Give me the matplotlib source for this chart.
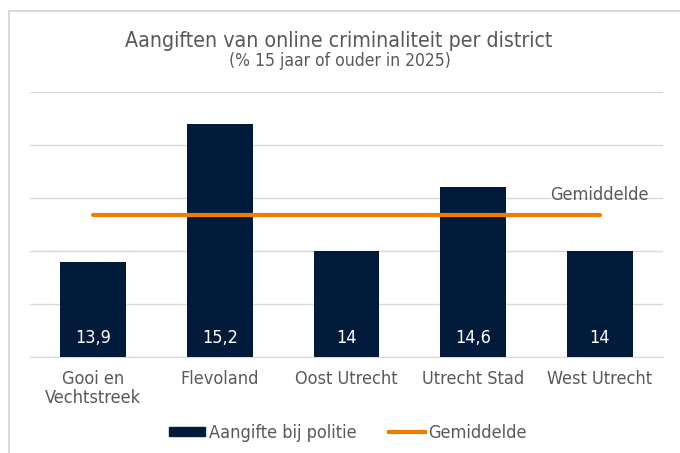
import matplotlib.pyplot as plt
import matplotlib.transforms as mtransforms
from matplotlib.lines import Line2D
from matplotlib.patches import Patch

districts = ['Gooi en\nVechtstreek', 'Flevoland', 'Oost Utrecht', 'Utrecht Stad', 'West Utrecht']
aangifte = [13.9, 15.2, 14.0, 14.6, 14.0]
value_labels = ['13,9', '15,2', '14', '14,6', '14']
gemiddelde = sum(aangifte) / len(aangifte)

navy = '#021B3A'
orange = '#F07D00'
grey_text = '#595959'
grid_col = '#D9D9D9'

plt.rcParams['font.family'] = ['DejaVu Sans']
plt.rcParams['font.stretch'] = 'condensed'

fig = plt.figure(figsize=(6.8, 4.53), dpi=100)
ax = fig.add_axes([30/680, 1-357/453, 633/680, 265/453])

x = list(range(len(districts)))
ax.bar(x, aangifte, width=0.52, color=navy, zorder=3)
ax.plot([x[0], x[-1]], [gemiddelde, gemiddelde], color=orange, lw=3,
        solid_capstyle='round', zorder=4)

trans = mtransforms.blended_transform_factory(ax.transData, ax.transAxes)
for i, lab in zip(x, value_labels):
    ax.text(i, 0.072, lab, transform=trans, ha='center', va='center',
            color='white', fontsize=13, zorder=5)

ax.text(x[-1], gemiddelde + 0.19, 'Gemiddelde', ha='center', va='center',
        color=grey_text, fontsize=13, zorder=5)

ax.set_xlim(-0.5, 4.5)
ax.set_ylim(13, 15.5)
ax.set_yticks([13, 13.5, 14, 14.5, 15, 15.5])
ax.set_yticklabels([])
ax.yaxis.grid(True, color=grid_col, lw=1, zorder=0)
ax.tick_params(axis='both', length=0)
ax.set_xticks(x)
ax.set_xticklabels(districts, color=grey_text, fontsize=13, linespacing=1.12)
ax.tick_params(axis='x', pad=9)
for s in ['left', 'right', 'top']:
    ax.spines[s].set_visible(False)
ax.spines['bottom'].set_color(grid_col)

fig.text(339/680, 1-41/453, 'Aangiften van online criminaliteit per district',
         ha='center', va='center', color=grey_text, fontsize=15.3)
fig.text(340/680, 1-61/453, '(% 15 jaar of ouder in 2025)',
         ha='center', va='center', color=grey_text, fontsize=12.5)

handles = [Patch(color=navy), Line2D([0], [0], color=orange, lw=3)]
leg = fig.legend(handles, ['Aangifte bij politie', 'Gemiddelde'], loc='center',
                 bbox_to_anchor=(348/680, 1-433/453), ncol=2, frameon=False,
                 fontsize=13, handlelength=2.0, handleheight=0.45,
                 handletextpad=0.2, columnspacing=1.8)
for t in leg.get_texts():
    t.set_color(grey_text)

fig.add_artist(Line2D([8.5/680, 8.5/680], [0, 1-10.5/453], color=grid_col, lw=1.5))
fig.add_artist(Line2D([8.5/680, 1], [1-10.5/453, 1-10.5/453], color=grid_col, lw=1.5))

fig.savefig('out.png', dpi=100)
